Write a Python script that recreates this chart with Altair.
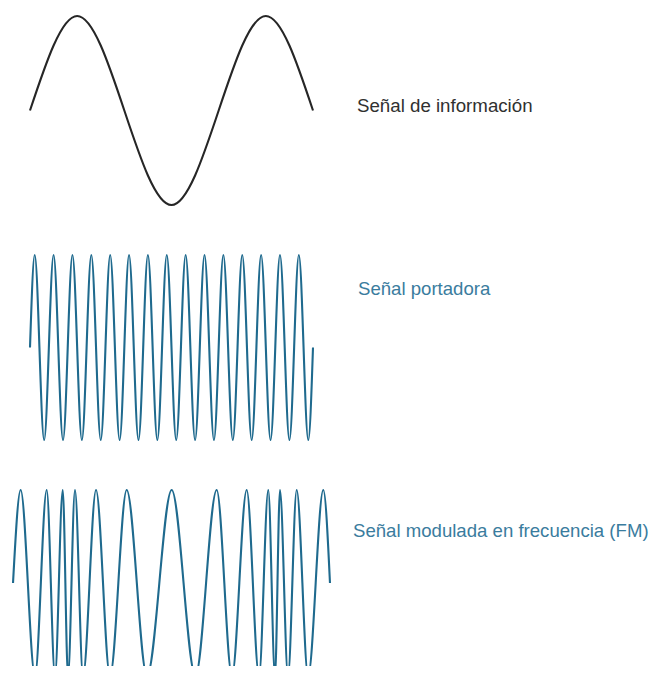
import altair as alt
import pandas as pd

# ---- data: positions (time units) of start, peaks/troughs and end of each wave ----
info_t = [0, 5, 15, 25, 30]
info_v = [0, 1, -1, 1, 0]

carrier_t = [0, 0.5, 1.5, 2.5, 3.5, 4.5, 5.5, 6.5, 7.5, 8.5, 9.5, 10.5, 11.5, 12.5,
             13.5, 14.5, 15.5, 16.5, 17.5, 18.5, 19.5, 20.5, 21.5, 22.5, 23.5, 24.5,
             25.5, 26.5, 27.5, 28.5, 29.5, 30]
carrier_v = [0, 1, -1, 1, -1, 1, -1, 1, -1, 1, -1, 1, -1, 1, -1, 1, -1, 1, -1, 1, -1,
             1, -1, 1, -1, 1, -1, 1, -1, 1, -1, 0]

fm_t = [-1.80, -0.99, 0.53, 1.77, 2.65, 3.47, 4.03, 4.77, 5.62, 7.00, 8.48, 10.25,
        12.40, 15.02, 17.54, 19.79, 21.41, 22.97, 24.28, 25.26, 25.97, 26.50, 27.35,
        28.27, 29.48, 31.09, 31.80]
fm_v = [0, 1, -1, 1, -1, 1, -1, 1, -1, 1, -1, 1, -1, 1, -1, 1, -1, 1, -1, 1, -1, 1,
        -1, 1, -1, 1, 0]

labels = ["Señal de información", "Señal portadora", "Señal modulada en frecuencia (FM)"]

# ---- layout / style ----
BLUE = "#1f6a8e"
BLUE_TEXT = "#3a7c9e"
DARK = "#262626"

W, H = 643, 658
X_DOMAIN = [-2.332, 65.83]


def band_domain(top, bottom):
    """y-scale domain so that +1 sits at pixel `top` and -1 at pixel `bottom`."""
    a = 2.0 / (bottom - top)
    d0 = 1 - (H - top) * a
    return [d0, d0 + H * a]


def wave(t, v, color, top, bottom):
    df = pd.DataFrame({"t": t, "v": v})
    return alt.Chart(df).mark_line(
        interpolate="monotone", color=color, strokeWidth=2.1, strokeJoin="round"
    ).encode(
        x=alt.X("t:Q", scale=alt.Scale(domain=X_DOMAIN, nice=False, zero=False), axis=None),
        y=alt.Y("v:Q", scale=alt.Scale(domain=band_domain(top, bottom), nice=False, zero=False),
                axis=None),
    )


def label(text, color, lx, ly, size):
    return alt.Chart(pd.DataFrame({"label": [text]})).mark_text(
        align="left", baseline="alphabetic", fontSize=size,
        font="Liberation Sans", color=color
    ).encode(x=alt.value(lx), y=alt.value(ly), text="label:N")


chart = alt.layer(
    wave(info_t, info_v, DARK, 8, 197),
    wave(carrier_t, carrier_v, BLUE, 247, 432),
    wave(fm_t, fm_v, BLUE, 482, 668),
    label(labels[0], "#303030", 349, 104, 18.7),
    label(labels[1], BLUE_TEXT, 350, 287, 18.6),
    label(labels[2], BLUE_TEXT, 345, 529, 18.6),
).resolve_scale(y="independent").properties(
    width=W, height=H,
    autosize=alt.AutoSizeParams(type="none"),
    padding=0,
    background="white",
).configure_view(stroke=None)

chart.save("out.html", embed_options={"renderer": "svg", "actions": False})
